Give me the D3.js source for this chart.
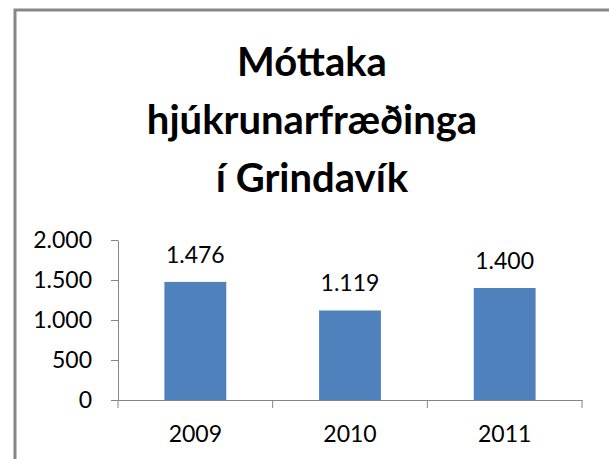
<!DOCTYPE html>
<html>
<head>
<meta charset="utf-8">
<script src="https://d3js.org/d3.v7.min.js"></script>
<style>
    body {
        margin: 0;
        background: #fff;
        font-family: Lato, 'Open Sans', sans-serif;
    }
    .axis text {
        font-family: Lato, sans-serif;
        font-size: 23px;
        fill: #000;
    }
    .axis path,
    .axis line {
        stroke: #868686;
    }
</style>
</head>
<body>
<svg width="609" height="459"></svg>
<script>
    // data
    const years = ['2009', '2010', '2011'];
    const visits = [1476, 1119, 1400];
    const yTicks = [0, 500, 1000, 1500, 2000];
    const titleLines = ['Móttaka', 'hjúkrunarfræðinga', 'í Grindavík'];

    const W = 609, H = 459;
    const plot = { left: 118, right: 582, top: 240, bottom: 400 };

    const svg = d3.select('svg');

    // chart frame (only left and top edges are in view)
    svg.append('path')
        .attr('d', 'M15,' + H + 'V10H' + W)
        .attr('fill', 'none')
        .attr('stroke', '#878787')
        .attr('stroke-width', 3);

    // title
    svg.append('g')
        .selectAll('text')
        .data(titleLines)
        .join('text')
        .attr('x', 312)
        .attr('y', (d, i) => 76 + i * 58)
        .attr('text-anchor', 'middle')
        .style('font-family', 'Lato, sans-serif')
        .style('font-weight', 'bold')
        .style('font-size', '40px')
        .text(d => d);

    const loc = d3.formatLocale({ decimal: ',', thousands: '.', grouping: [3], currency: ['', ''] });
    const fmt = loc.format(',d');

    const x = d3.scaleBand()
        .domain(years)
        .range([plot.left, plot.right])
        .paddingInner(0.6)
        .paddingOuter(0.3);

    const y = d3.scaleLinear()
        .domain([0, 2000])
        .range([plot.bottom, plot.top]);

    // y axis
    svg.append('g')
        .attr('class', 'axis')
        .attr('transform', 'translate(' + plot.left + ',0)')
        .call(d3.axisLeft(y).tickValues(yTicks).tickFormat(fmt).tickSize(7).tickSizeOuter(0).tickPadding(19));

    // bars
    svg.append('g')
        .selectAll('rect')
        .data(visits)
        .join('rect')
        .attr('x', (d, i) => x(years[i]))
        .attr('y', d => y(d))
        .attr('width', x.bandwidth())
        .attr('height', d => y(0) - y(d))
        .attr('fill', '#4f81bd');

    // value labels
    svg.append('g')
        .selectAll('text')
        .data(visits)
        .join('text')
        .attr('x', (d, i) => x(years[i]) + x.bandwidth() / 2)
        .attr('y', d => y(d) - 19)
        .attr('text-anchor', 'middle')
        .style('font-family', 'Lato, sans-serif')
        .style('font-size', '23px')
        .text(d => fmt(d));

    // x axis
    const xAxis = svg.append('g')
        .attr('class', 'axis')
        .attr('transform', 'translate(0,' + plot.bottom + ')')
        .call(d3.axisBottom(x).tickSize(0).tickSizeOuter(0).tickPadding(26));

    // category boundary ticks
    const gap = x.step() - x.bandwidth();
    const edges = years.map(d => x(d) - gap / 2).concat([plot.right]);
    xAxis.selectAll('.edge')
        .data(edges)
        .join('line')
        .attr('class', 'edge')
        .attr('x1', d => d)
        .attr('x2', d => d)
        .attr('y1', 0)
        .attr('y2', 8);
</script>
</body>
</html>
